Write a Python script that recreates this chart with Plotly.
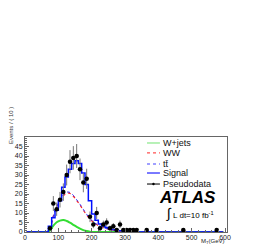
import plotly.graph_objects as go

# bin centres (GeV), 10 GeV bins
mt = [5, 15, 25, 35, 45, 55, 65, 75, 85, 95, 105, 115, 125, 135, 145, 155, 165, 175, 185, 195,
      205, 215, 225, 235, 245, 255, 265, 275, 285, 295, 305, 315, 325, 335, 345, 355, 365,
      375, 385, 395, 405, 415, 425, 435, 445, 455, 465, 475, 485, 495, 505, 515, 525, 535,
      545, 555, 565, 575, 585, 595]

wjets = [0, 0, 0, 0, 0, 0, 0, 0.8, 3.3, 5.1, 6.0, 6.3, 5.8, 4.9, 3.8, 2.7, 1.8, 1.0, 0.5, 0.2,
         0.05] + [0] * 39
ww = [0, 0, 0, 0, 0, 0, 0, 2.0, 8.3, 12.9, 16.5, 19.0, 20.5, 20.3, 18.8, 16.6, 14.2, 11.5,
      9.0, 6.8, 5.1, 3.9, 3.0, 2.3, 1.7, 1.3, 1.0, 0.7, 0.5, 0.35, 0.25, 0.15, 0.1, 0.05,
      0] + [0] * 25
ttbar = [0, 0, 0, 0, 0, 0, 0, 2.1, 8.5, 13.2, 16.9, 19.5, 21.0, 20.8, 19.3, 17.0, 14.6, 11.9,
         9.3, 7.1, 5.3, 4.1, 3.1, 2.4, 1.8, 1.4, 1.05, 0.75, 0.55, 0.4, 0.28, 0.18, 0.1, 0.05,
         0] + [0] * 25
signal = [0, 0, 0, 0, 0, 0, 0, 3, 7.5, 11.5, 16.5, 23.5, 29, 33, 36, 37.5, 36, 31, 25, 16.5,
          9.5, 6.2, 4.2, 3.1, 2.4, 1.8, 1.3, 1.0, 0.7, 0.5, 0.4, 0.3, 0.2, 0.1, 0] + [0] * 25

data_x = [75, 85, 95, 105, 115, 125, 135, 145, 155, 165, 175, 185, 195, 205, 215, 225, 235,
          245, 255, 265, 275, 285, 295, 305, 315, 325, 335, 365, 395, 475, 575]
data_y = [2, 15, 12, 17, 21, 30, 37, 39, 40, 33, 26, 28, 8, 4, 10, 2, 4, 5, 2, 3, 1, 4, 1, 1,
          1, 1, 1, 1, 1, 1, 1]
data_err = [1.4, 3.9, 3.5, 4.1, 4.6, 5.5, 6.1, 6.2, 6.3, 5.7, 5.1, 5.3, 2.8, 2.0, 3.2, 1.4,
            2.0, 2.2, 1.4, 1.7, 1.0, 2.0, 1.0, 1.0, 1.0, 1.0, 1.0, 1.0, 1.0, 1.0, 1.0]

x_ticks = [0, 100, 200, 300, 400, 500, 600]
y_ticks = [0, 5, 10, 15, 20, 25, 30, 35, 40, 45]

legend_names = ["W+jets", "WW", "tt\u0304", "Signal", "Pseudodata"]
legend_colors = ["#88e888", "#ff5050", "#4040ff", "#2020ff", "#222222"]
legend_dash = ["solid", "dot", "dot", "solid", "solid"]

FONT = "Liberation Sans, Arial, sans-serif"

fig = go.Figure()
fig.add_trace(go.Scatter(x=mt, y=wjets, name=legend_names[0], mode="lines", line_shape="spline",
                         line=dict(color="#33dd33", width=2)))
fig.add_trace(go.Scatter(x=mt, y=ww, name=legend_names[1], mode="lines", line_shape="spline",
                         line=dict(color="#ff2020", width=1.2, dash="dot")))
fig.add_trace(go.Scatter(x=mt, y=ttbar, name=legend_names[2], mode="lines", line_shape="spline",
                         line=dict(color="#3030ff", width=1.0, dash="dot")))
fig.add_trace(go.Scatter(x=mt, y=signal, name=legend_names[3], mode="lines", line_shape="hvh",
                         line=dict(color="#0010ff", width=1.5)))
fig.add_trace(go.Scatter(x=data_x, y=data_y, name=legend_names[4], mode="markers",
                         marker=dict(color="black", size=4.5, symbol="circle"),
                         error_y=dict(type="data", array=data_err, color="#777", thickness=1, width=0),
                         error_x=dict(type="constant", value=5, color="#111", thickness=1, width=0)))

axis_common = dict(showline=True, linecolor="#666", linewidth=1, mirror=True, ticks="inside",
                   ticklen=4, tickcolor="#666", showgrid=False, zeroline=False, automargin=False,
                   tickfont=dict(family=FONT, size=7, color="#222"))
fig.update_xaxes(range=[0, 606], tickvals=x_ticks, **axis_common, ticklabelstandoff=-1,
                 minor=dict(ticks="inside", ticklen=2, dtick=20, tickcolor="#666"))
fig.update_yaxes(range=[0, 50], tickvals=y_ticks, **axis_common,
                 minor=dict(ticks="inside", ticklen=2, dtick=1, tickcolor="#666"))

# hand-built compact legend (ROOT style)
leg_y = [0.937, 0.832, 0.716, 0.621, 0.505]
annotations = []
shapes = []
for name, col, dash, yy in zip(legend_names, legend_colors, legend_dash, leg_y):
    annotations.append(dict(text=name, xref="paper", yref="paper", x=0.675, y=yy,
                            showarrow=False, xanchor="left", yanchor="middle",
                            font=dict(family=FONT, size=9, color="#111")))
    shapes.append(dict(type="line", xref="paper", yref="paper", x0=0.604, x1=0.668,
                       y0=yy, y1=yy, line=dict(color=col, width=1.2, dash=dash)))
# marker glyph for the pseudodata sample
shapes.append(dict(type="circle", xref="paper", yref="paper", x0=0.630, x1=0.642,
                   y0=leg_y[4] - 0.013, y1=leg_y[4] + 0.013,
                   fillcolor="black", line=dict(color="black", width=0)))

annotations += [
    dict(text="<b><i>ATLAS</i></b>", xref="paper", yref="paper", x=0.955, y=0.36,
         showarrow=False, xanchor="right", yanchor="middle",
         font=dict(family=FONT, size=17, color="black")),
    dict(text="<span style='font-size:14px'>\u222b</span> L dt=10 fb<sup>-1</sup>",
         xref="paper", yref="paper", x=0.945, y=0.20, showarrow=False, xanchor="right",
         yanchor="middle", font=dict(family=FONT, size=8, color="black")),
    dict(text="M<sub>T</sub>(GeV)", xref="paper", yref="paper", x=1.0, y=-0.105,
         showarrow=False, xanchor="right", yanchor="middle",
         font=dict(family=FONT, size=6, color="#222")),
    dict(text="Events / ( 10 )", xref="paper", yref="paper", x=-0.072, y=1.12,
         textangle=-90, showarrow=False, xanchor="center", yanchor="middle",
         font=dict(family=FONT, size=6, color="#333")),
]

# page body adds an 8px offset; figure is sized so the plot frame lands where the reference has it
fig.update_layout(
    width=265, height=237, margin=dict(l=17, r=46, t=129, b=13),
    paper_bgcolor="white", plot_bgcolor="white", showlegend=False,
    annotations=annotations, shapes=shapes,
)
fig.write_html("out.html")
